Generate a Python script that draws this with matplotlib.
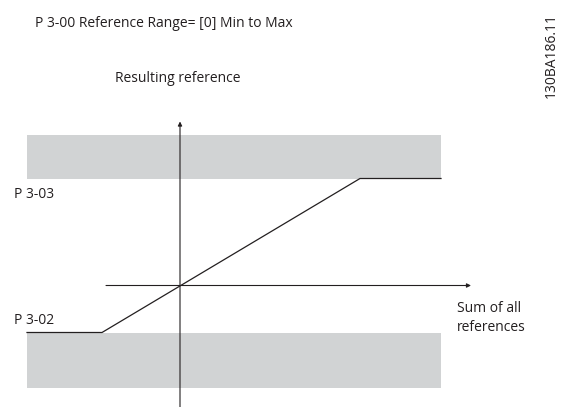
import matplotlib.pyplot as plt

# diagram units: origin at the axis crossing, 1 unit ~ 1 px
ref_min = -47
ref_max = 107
ramp_x = [-153, -78, 180, 261]
ramp_y = [ref_min, ref_min, ref_max, ref_max]

band_x = [-153, 261]
upper_band = [ref_max, 151]
lower_band = [-102, ref_min]

x_axis = [-74, 291]
y_axis = [-122, 164]

title = 'P 3-00 Reference Range= [0] Min to Max'
y_label = 'Resulting reference'
x_label = 'Sum of all\nreferences'
max_label = 'P 3-03'
min_label = 'P 3-02'
code = '130BA186.11'

ink = '#231f20'
gray = '#d1d3d4'

plt.rcParams['font.family'] = ['Open Sans', 'DejaVu Sans']

fig = plt.figure(figsize=(5.63, 4.07), dpi=100)
ax = fig.add_axes([0, 0, 1, 1])
ax.set_xlim(-180, 383)
ax.set_ylim(-121.5, 285.5)
ax.axis('off')

ax.fill_between(band_x, upper_band[0], upper_band[1], color=gray, lw=0)
ax.fill_between(band_x, lower_band[0], lower_band[1], color=gray, lw=0)

arrow = dict(arrowstyle='-|>', lw=0.8, color=ink, mutation_scale=6,
             shrinkA=0, shrinkB=0)
ax.annotate('', xy=(x_axis[1], 0), xytext=(x_axis[0], 0), arrowprops=arrow)
ax.annotate('', xy=(0, y_axis[1]), xytext=(0, y_axis[0]), arrowprops=arrow)

ax.plot(ramp_x, ramp_y, color=ink, lw=0.9, solid_joinstyle='miter')

fs = 10
ax.text(-145, 262, title, fontsize=fs, color=ink, va='center')
ax.text(-65, 206.5, y_label, fontsize=fs, color=ink, va='center')
ax.text(-166, 90.5, max_label, fontsize=fs, color=ink, va='center')
ax.text(-166, -35.5, min_label, fontsize=fs, color=ink, va='center')
ax.text(277, -32.5, x_label, fontsize=fs, color=ink, va='center',
        linespacing=1.3)
ax.text(371, 230, code, fontsize=fs, color=ink, va='center', ha='center',
        rotation=90)

fig.savefig('out.png', dpi=100)
